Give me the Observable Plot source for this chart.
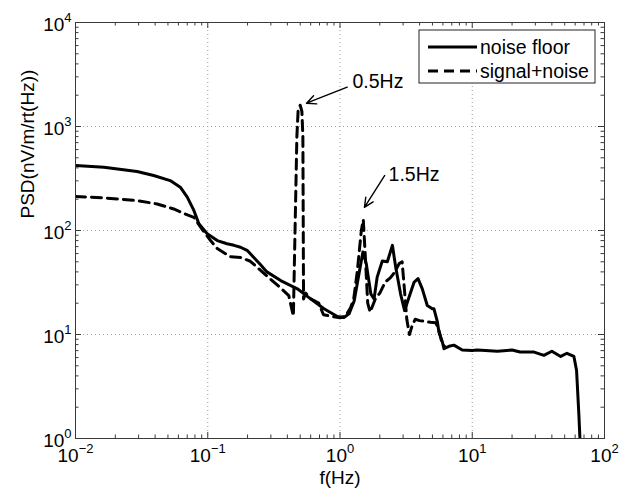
<!DOCTYPE html>
<html><head><meta charset="utf-8">
<script src="https://cdn.jsdelivr.net/npm/d3@7"></script>
<script src="https://cdn.jsdelivr.net/npm/@observablehq/plot@0.6"></script>
<style>html,body{margin:0;padding:0;background:#fff}</style>
</head><body><div id="chart"></div>
<script>
// ---- data ----
const seriesNames = ["noise floor", "signal+noise"];
const noiseFreq = [0.01,0.0164,0.0292,0.039,0.052,0.062,0.070,0.0785,0.0857,0.099,0.118,0.14,0.158,0.177,0.2,0.223,0.25,0.28,0.356,0.476,0.6,0.757,0.955,1.07,1.17,1.28,1.39,1.49,1.58,1.71,1.81,1.91,2.09,2.28,2.49,2.64,2.87,3.08,3.33,3.63,3.89,4.19,4.57,4.99,5.13,5.45,5.6,5.94,6.11,6.67,7.26,8.4,10,10.9,15.5,20,23,29,34.8,40,46.6,52,58.7,61.5,64,65.2];
const noiseVal  = [422,406,369,338,302,261,209,156,116,93,80,74.5,72,69,64,55,47,40,33,27.5,22,17.7,14.9,14.6,15.8,21,38,62,48,24.6,22,35.6,51,50,72,44,24.6,17,22.9,31.8,34.5,27.5,19,17.7,17.7,13.2,10.5,8.5,7.3,7.7,7.9,7.1,7.0,7.1,6.9,7.1,6.8,6.8,6.3,6.9,6.15,6.6,6.15,4.5,1.7,1.0];
const signalFreq = [0.01,0.0164,0.0292,0.0414,0.0553,0.0678,0.0785,0.09,0.105,0.118,0.148,0.177,0.21,0.27,0.34,0.41,0.444,0.472,0.482,0.50,0.515,0.524,0.53,0.55,0.6,0.69,0.75,0.85,1.0,1.1,1.2,1.27,1.35,1.45,1.5,1.55,1.62,1.69,1.85,2.0,2.2,2.4,2.6,2.8,2.95,3.05,3.2,3.35,3.5,3.7,4.0,4.84,5.3,5.6,5.93,6.3];
const signalVal  = [212,206,194,180,161,144,134,104,80,67,56,55,50.6,38,29.5,23.7,15,800,1400,1600,1400,800,22,25,22,20,15.5,15,14.5,15,18,22,40,100,127,60,20,16.4,22,25,32,35,40,48,50,30,14,10,12,14,13.6,13.1,13,11,8.1,7.5];

const xTickValues = [0.01, 0.1, 1, 10, 100];
const xTickExp = ["\u22122", "\u22121", "0", "1", "2"];
const yTickValues = [1, 10, 100, 1000, 10000];
const yTickExp = ["0", "1", "2", "3", "4"];

const annLabels = ["0.5Hz", "1.5Hz"];
const annTextX = [1.243, 2.33];
const annTextY = [2710, 342];
const annX1 = [1.134, 2.18];
const annY1 = [2388, 338];
const annX2 = [0.558, 1.53];
const annY2 = [1675, 167];

const xLabel = "f(Hz)";
const yLabel = "PSD(nV/m/rt(Hz))";

// ---- tables ----
const noise = noiseFreq.map((f, i) => ({f, v: noiseVal[i]}));
const signal = signalFreq.map((f, i) => ({f, v: signalVal[i]}));
const ann = annLabels.map((label, i) => ({label, tx: annTextX[i], ty: annTextY[i], x1: annX1[i], y1: annY1[i], x2: annX2[i], y2: annY2[i]}));
const minorOf = (decades) => decades.slice(0, -1).flatMap(d => [2,3,4,5,6,7,8,9].map(k => k * d));
const xMinor = minorOf(xTickValues);
const yMinor = minorOf(yTickValues);

// ---- layout ----
const W = 620, H = 497, mL = 75, mR = 16, mT = 22, mB = 59;
const iW = W - mL - mR, iH = H - mT - mB;
const FONT = "'Liberation Sans', Arial, Helvetica, sans-serif";
const axisCol = "#3a3a3a", gridCol = "#9c9c9c";
const majLen = 6, minLen = 3.5;

const svg = Plot.plot({
  width: W, height: H,
  marginLeft: mL, marginRight: mR, marginTop: mT, marginBottom: mB,
  x: {type: "log", domain: [0.01, 100], axis: null},
  y: {type: "log", domain: [1, 10000], axis: null},
  style: {fontFamily: FONT, background: "#fff", color: "#000"},
  marks: [
    // dotted grid
    Plot.ruleX(xTickValues.slice(1, -1), {stroke: gridCol, strokeDasharray: "1,3", strokeWidth: 1}),
    Plot.ruleY(yTickValues.slice(1, -1), {stroke: gridCol, strokeDasharray: "1,3", strokeWidth: 1}),
    // ticks (inward, all four sides)
    Plot.ruleX(xTickValues, {stroke: axisCol, insetTop: iH - majLen}),
    Plot.ruleX(xTickValues, {stroke: axisCol, insetBottom: iH - majLen}),
    Plot.ruleX(xMinor, {stroke: axisCol, insetTop: iH - minLen}),
    Plot.ruleX(xMinor, {stroke: axisCol, insetBottom: iH - minLen}),
    Plot.ruleY(yTickValues, {stroke: axisCol, insetRight: iW - majLen}),
    Plot.ruleY(yTickValues, {stroke: axisCol, insetLeft: iW - majLen}),
    Plot.ruleY(yMinor, {stroke: axisCol, insetRight: iW - minLen}),
    Plot.ruleY(yMinor, {stroke: axisCol, insetLeft: iW - minLen}),
    // data
    Plot.line(noise, {x: "f", y: "v", stroke: "#000", strokeWidth: 3, strokeLinejoin: "round", clip: true}),
    Plot.line(signal, {x: "f", y: "v", stroke: "#000", strokeWidth: 3, strokeDasharray: "10,6", strokeLinejoin: "round", clip: true}),
    // annotations
    Plot.arrow(ann, {x1: "x1", y1: "y1", x2: "x2", y2: "y2", stroke: "#000", strokeWidth: 1.4, headLength: 11, headAngle: 50}),
    Plot.text(ann, {x: "tx", y: "ty", text: "label", textAnchor: "start", fontSize: 19.5, fill: "#000"}),
    // frame
    Plot.frame({stroke: axisCol, strokeWidth: 1}),
    // tick labels
    Plot.text(xTickValues, {x: d => d, frameAnchor: "bottom", dy: 23, text: (d, i) => "10^" + xTickExp[i], fontSize: 19, fill: "#000"}),
    Plot.text(yTickValues, {y: d => d, frameAnchor: "left", dx: -4, dy: 2, textAnchor: "end", text: (d, i) => "10^" + yTickExp[i], fontSize: 19, fill: "#000"}),
    // axis titles
    Plot.text([xLabel], {frameAnchor: "bottom", dy: 45, text: d => d, fontSize: 19, fill: "#000"}),
    Plot.text([yLabel], {frameAnchor: "left", dx: -48, dy: -12, rotate: -90, text: d => d, fontSize: 19, fill: "#000"})
  ]
});

// superscript exponents on tick labels
d3.select(svg).selectAll("text").each(function() {
  const txt = this.textContent;
  if (txt.indexOf("^") < 0) return;
  const s = txt.split("^");
  const t = d3.select(this);
  t.selectAll("*").remove();
  t.text(null);
  t.append("tspan").text(s[0]);
  t.append("tspan").attr("dy", -9).attr("font-size", 13).text(s[1]);
});

// legend box (MATLAB style, upper right)
const lg = d3.select(svg).append("g").attr("font-family", FONT).attr("font-size", 19.5).attr("text-anchor", "start");
lg.append("rect").attr("x", 419).attr("y", 30).attr("width", 176).attr("height", 53)
  .attr("fill", "#fff").attr("stroke", "#222").attr("stroke-width", 1);
seriesNames.forEach((name, i) => {
  const yy = 47 + i * 24;
  lg.append("line").attr("x1", 428).attr("x2", 477).attr("y1", yy).attr("y2", yy)
    .attr("stroke", "#000").attr("stroke-width", 3)
    .attr("stroke-dasharray", i === 1 ? "10,6" : null);
  lg.append("text").attr("x", 480).attr("y", yy + 7).attr("fill", "#000").attr("text-anchor", "start").text(name);
});

document.getElementById("chart").appendChild(svg);
</script>
</body></html>
